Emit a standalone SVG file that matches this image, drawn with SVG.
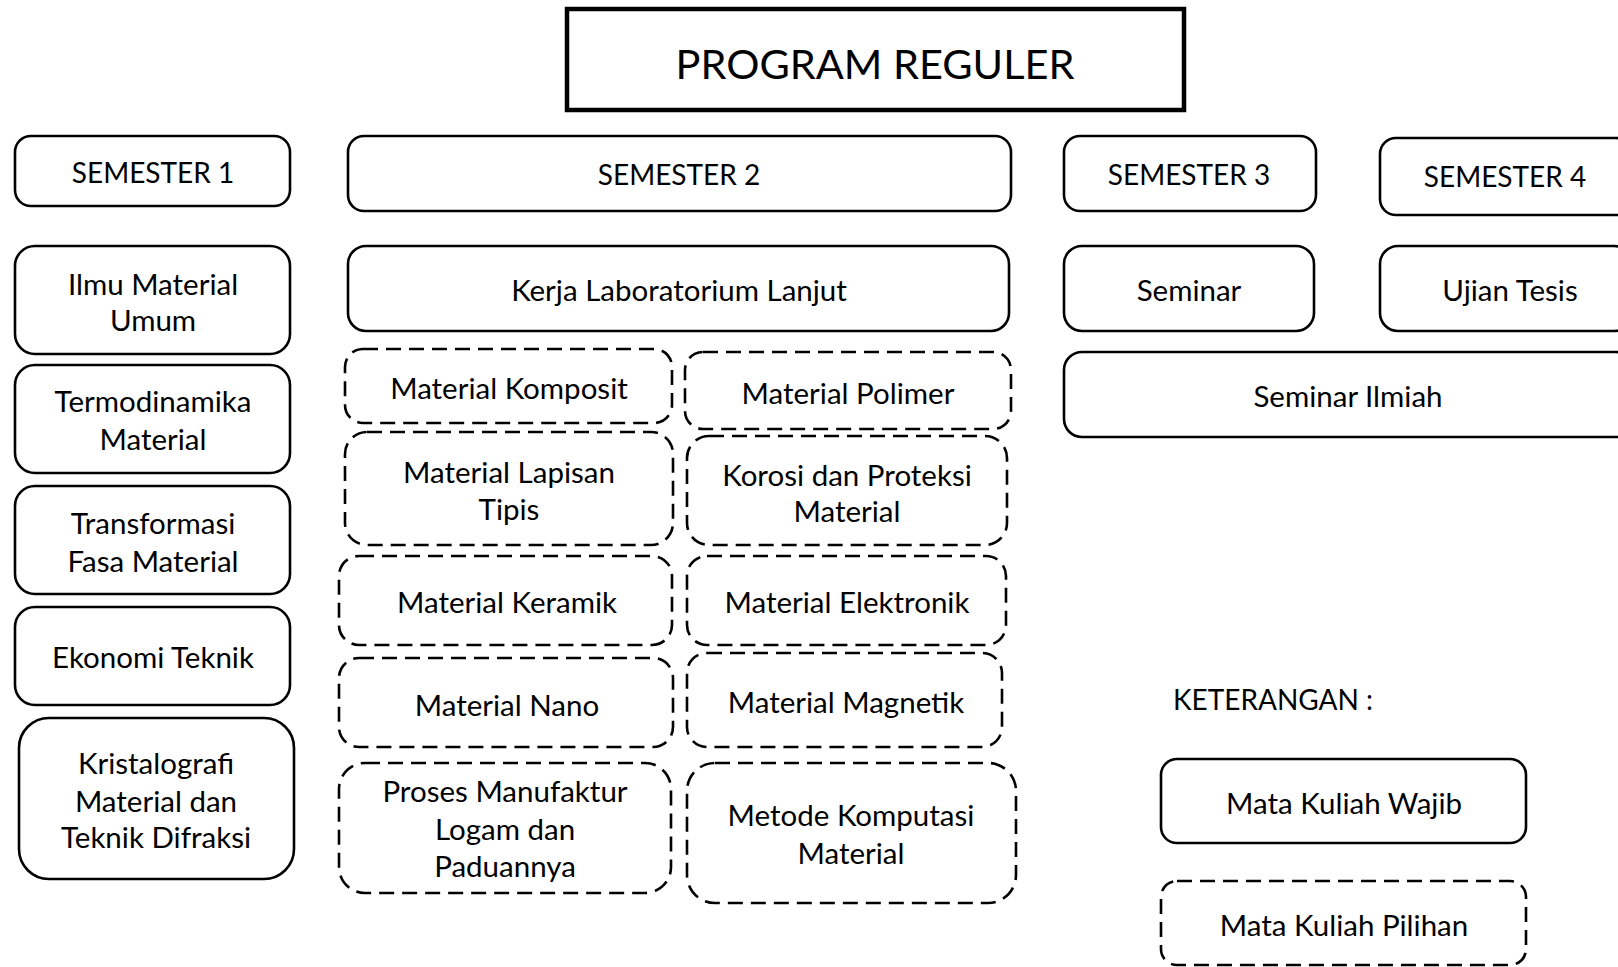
<svg xmlns="http://www.w3.org/2000/svg" width="1618" height="967" viewBox="0 0 1618 967">
<style>
.bg{fill:#fff}
.s{fill:#fff;stroke:#000;stroke-width:2.6}
.d{fill:#fff;stroke:#000;stroke-width:2.6;stroke-dasharray:15 8}
.t{font-family:Lato,"Open Sans","Liberation Sans",sans-serif;font-size:29.5px;fill:#000;text-anchor:middle;dominant-baseline:central}
.u{font-size:28px}
.title{font-family:Lato,"Open Sans","Liberation Sans",sans-serif;font-size:41.5px;fill:#000;text-anchor:middle;dominant-baseline:central}
</style>
<rect class="bg" x="0" y="0" width="1618" height="967"/>
<g id="title">
<rect x="567" y="9" width="617" height="101" fill="#fff" stroke="#000" stroke-width="4.5"/>
<text class="title" x="875" y="63">PROGRAM REGULER</text>
</g>
<g id="sem1"><rect class="s" x="15" y="136" width="275" height="70" rx="16"/><text class="t u" x="153" y="172">SEMESTER 1</text></g>
<g id="sem2"><rect class="s" x="348" y="136" width="663" height="75" rx="16"/><text class="t u" x="679" y="174">SEMESTER 2</text></g>
<g id="sem3"><rect class="s" x="1064" y="136" width="252" height="75" rx="16"/><text class="t u" x="1189" y="174">SEMESTER 3</text></g>
<g id="sem4"><rect class="s" x="1380" y="138" width="252" height="77" rx="16"/><text class="t u" x="1505" y="176">SEMESTER 4</text></g>
<g id="ilmu"><rect class="s" x="15" y="246" width="275" height="108" rx="20"/><text class="t" x="153" y="283">Ilmu Material</text><text class="t" x="153" y="319">Umum</text></g>
<g id="termo"><rect class="s" x="15" y="365" width="275" height="108" rx="20"/><text class="t" x="153" y="400">Termodinamika</text><text class="t" x="153" y="438">Material</text></g>
<g id="trans"><rect class="s" x="15" y="486" width="275" height="108" rx="20"/><text class="t" x="153" y="522">Transformasi</text><text class="t" x="153" y="560">Fasa Material</text></g>
<g id="ekon"><rect class="s" x="15" y="607" width="275" height="98" rx="20"/><text class="t" x="153" y="656">Ekonomi Teknik</text></g>
<g id="kristal"><rect class="s" x="19" y="718" width="275" height="161" rx="30"/><text class="t" x="156" y="762">Kristalografi</text><text class="t" x="156" y="800">Material dan</text><text class="t" x="156" y="836">Teknik Difraksi</text></g>
<g id="kerja"><rect class="s" x="348" y="246" width="661" height="85" rx="18"/><text class="t" x="679" y="289">Kerja Laboratorium Lanjut</text></g>
<g id="seminar"><rect class="s" x="1064" y="246" width="250" height="85" rx="18"/><text class="t" x="1189" y="289">Seminar</text></g>
<g id="ujian"><rect class="s" x="1380" y="246" width="252" height="85" rx="18"/><text class="t" x="1510" y="289">Ujian Tesis</text></g>
<g id="seminarilmiah"><rect class="s" x="1064" y="352" width="570" height="85" rx="18"/><text class="t" x="1348" y="395">Seminar Ilmiah</text></g>
<g id="komposit"><rect class="d" x="345" y="349" width="327" height="74" rx="18"/><text class="t" x="509" y="387">Material Komposit</text></g>
<g id="polimer"><rect class="d" x="685" y="352" width="326" height="77" rx="18"/><text class="t" x="848" y="392">Material Polimer</text></g>
<g id="lapisan"><rect class="d" x="345" y="432" width="328" height="113" rx="22"/><text class="t" x="509" y="471">Material Lapisan</text><text class="t" x="509" y="508">Tipis</text></g>
<g id="korosi"><rect class="d" x="687" y="436" width="320" height="109" rx="22"/><text class="t" x="847" y="474">Korosi dan Proteksi</text><text class="t" x="847" y="510">Material</text></g>
<g id="keramik"><rect class="d" x="339" y="556" width="333" height="89" rx="20"/><text class="t" x="507" y="601">Material Keramik</text></g>
<g id="elektronik"><rect class="d" x="687" y="556" width="319" height="89" rx="20"/><text class="t" x="847" y="601">Material Elektronik</text></g>
<g id="nano"><rect class="d" x="339" y="658" width="334" height="89" rx="20"/><text class="t" x="507" y="704">Material Nano</text></g>
<g id="magnetik"><rect class="d" x="687" y="653" width="315" height="94" rx="20"/><text class="t" x="846" y="701">Material Magnetik</text></g>
<g id="proses"><rect class="d" x="339" y="763" width="332" height="130" rx="26"/><text class="t" x="505" y="790">Proses Manufaktur</text><text class="t" x="505" y="828">Logam dan</text><text class="t" x="505" y="865">Paduannya</text></g>
<g id="metode"><rect class="d" x="687" y="763" width="329" height="140" rx="28"/><text class="t" x="851" y="814">Metode Komputasi</text><text class="t" x="851" y="852">Material</text></g>
<g id="keterangan"><text class="t u" x="1173" y="699" style="text-anchor:start">KETERANGAN :</text></g>
<g id="wajib"><rect class="s" x="1161" y="759" width="365" height="84" rx="16"/><text class="t" x="1344" y="802">Mata Kuliah Wajib</text></g>
<g id="pilihan"><rect class="d" x="1161" y="881" width="365" height="84" rx="16"/><text class="t" x="1344" y="924">Mata Kuliah Pilihan</text></g>
<g id="connectors"></g>
</svg>
